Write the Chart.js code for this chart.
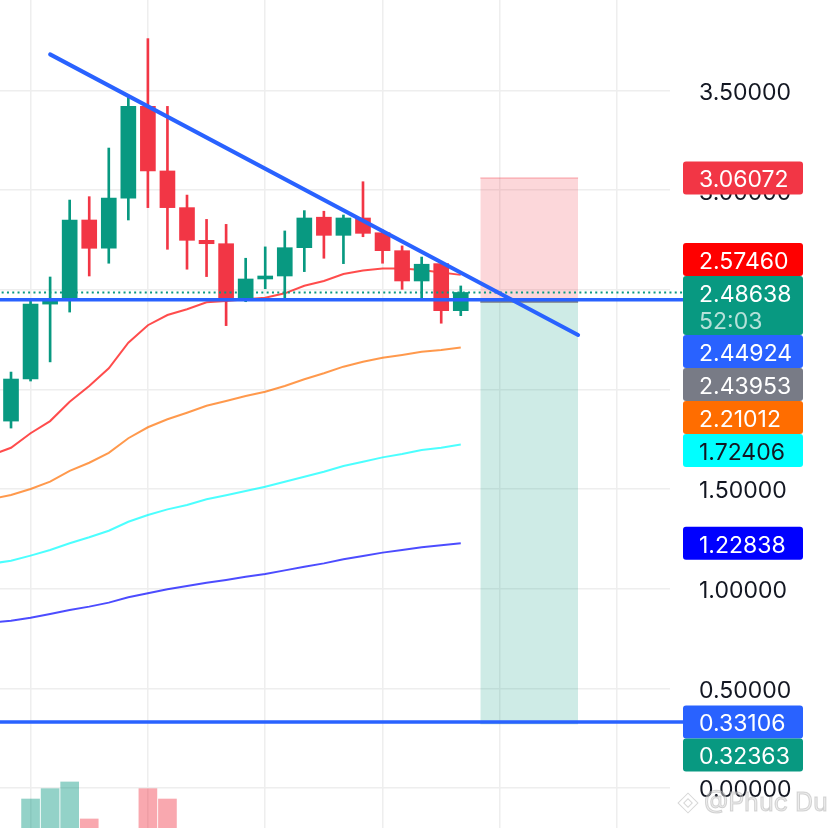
<!DOCTYPE html>
<html>
<head>
<meta charset="utf-8">
<script src="https://cdn.jsdelivr.net/npm/chart.js@4.4.1/dist/chart.umd.min.js"></script>
<style>
  html, body { margin: 0; padding: 0; background: #fff; }
  #wrap { width: 828px; height: 828px; overflow: hidden; }
</style>
</head>
<body>
<div id="wrap"><canvas id="chart" width="828" height="828"></canvas></div>
<script>
// candles, one per index 0..23
const opens  = [1.841, 2.052, 2.428, 2.454, 2.850, 2.708, 2.960, 3.420, 3.096, 2.912, 2.748, 2.731,
                2.452, 2.554, 2.569, 2.711, 2.864, 2.773, 2.860, 2.786, 2.696, 2.544, 2.631, 2.395];
const highs  = [2.087, 2.454, 2.564, 2.950, 2.967, 3.211, 3.472, 3.760, 3.420, 2.975, 2.853, 2.828,
                2.658, 2.715, 2.795, 2.897, 2.894, 2.875, 3.042, 2.800, 2.720, 2.664, 2.640, 2.519];
const lows   = [1.806, 2.042, 2.138, 2.388, 2.569, 2.633, 2.850, 2.912, 2.703, 2.603, 2.566, 2.320,
                2.440, 2.505, 2.452, 2.591, 2.658, 2.631, 2.766, 2.633, 2.502, 2.452, 2.332, 2.370];
const closes = [2.052, 2.428, 2.454, 2.850, 2.708, 2.960, 3.420, 3.096, 2.912, 2.748, 2.731, 2.452,
                2.554, 2.569, 2.711, 2.860, 2.773, 2.860, 2.783, 2.696, 2.544, 2.628, 2.395, 2.48638];
// volume (only the bars that reach into view)
const volumes = [null, 3.5, 4.75, 5.56, 1.09, null, null, 4.75, 3.5, null, null, null,
                 null, null, null, null, null, null, null, null, null, null, null, null];

// moving averages, index -1..23
const maRed    = [1.671, 1.707, 1.780, 1.841, 1.938, 2.017, 2.106, 2.234, 2.322, 2.373, 2.402, 2.437, 2.444,
                  2.452, 2.460, 2.482, 2.520, 2.544, 2.579, 2.596, 2.606, 2.606, 2.599, 2.586, 2.5746];
const maOrange = [1.450, 1.470, 1.500, 1.537, 1.591, 1.632, 1.682, 1.755, 1.810, 1.850, 1.883, 1.918, 1.942,
                  1.967, 1.988, 2.017, 2.051, 2.081, 2.114, 2.139, 2.159, 2.173, 2.189, 2.198, 2.21012];
const maCyan   = [1.126, 1.140, 1.166, 1.194, 1.228, 1.258, 1.291, 1.336, 1.370, 1.398, 1.420, 1.449, 1.469,
                  1.490, 1.512, 1.537, 1.562, 1.587, 1.616, 1.637, 1.659, 1.676, 1.696, 1.707, 1.72406];
const maBlue   = [0.830, 0.839, 0.854, 0.873, 0.893, 0.910, 0.930, 0.957, 0.977, 0.997, 1.014, 1.030, 1.044,
                  1.060, 1.074, 1.092, 1.110, 1.127, 1.148, 1.164, 1.181, 1.194, 1.208, 1.218, 1.22838];

const priceTicks = [0, 0.5, 1.0, 1.5, 2.0, 2.5, 3.0, 3.5];
const timeGrid = [1, 7, 13, 19, 25, 31];

// drawn levels
const supportLevel = 2.44924;
const lowLevel = 0.33106;
const lastPrice = 2.48638;
const trendX = [2, 29];
const trendY = [3.681, 2.273];
// short position tool
const posX = [24, 29];
const entryPrice = 2.43953;
const stopPrice = 3.06072;
const targetPrice = 0.32363;

const priceLabels = [
  { value: 3.06072, text: '3.06072', bg: '#f23645', fg: '#ffffff' },
  { value: 2.57460, text: '2.57460', bg: '#ff0000', fg: '#ffffff' },
  { value: 2.48638, text: '2.48638', sub: '52:03', bg: '#089981', fg: '#ffffff', anchor: true },
  { value: 2.44924, text: '2.44924', bg: '#2962ff', fg: '#ffffff' },
  { value: 2.43953, text: '2.43953', bg: '#787b86', fg: '#ffffff' },
  { value: 2.21012, text: '2.21012', bg: '#ff6d00', fg: '#ffffff' },
  { value: 1.72406, text: '1.72406', bg: '#00ffff', fg: '#131722' },
  { value: 1.22838, text: '1.22838', bg: '#0000ff', fg: '#ffffff' },
  { value: 0.33106, text: '0.33106', bg: '#2962ff', fg: '#ffffff' },
  { value: 0.32363, text: '0.32363', bg: '#089981', fg: '#ffffff' },
];

const GREEN = '#089981';
const RED = '#f23645';
const FONT = 'Inter, "Noto Sans", sans-serif';
const xMin = -0.563, xMax = 33.7;
const yMin = -0.2007, yMax = 3.9538;

const idx = opens.map((v, i) => i);
const up = idx.map(i => closes[i] >= opens[i]);
const hline = (v) => [{ x: xMin - 1, y: v }, { x: xMax + 2, y: v }];
const maLine = (arr) => arr.map((v, k) => ({ x: k - 1, y: v }));
// let the price lines run on up to their axis label
const toLabel = { left: 0, top: 0, right: 13, bottom: 0 };

const datasets = [
  {
    type: 'bar', yAxisID: 'yv', order: 20,
    data: idx.map(i => ({ x: i, y: volumes[i] })),
    backgroundColor: idx.map(i => up[i] ? 'rgba(8,153,129,0.44)' : 'rgba(242,54,69,0.43)'),
    barThickness: 18, grouped: false
  },
  {
    type: 'line', order: 9,
    data: [{ x: posX[0], y: entryPrice }, { x: posX[1], y: entryPrice }],
    borderColor: '#787b86', borderWidth: 2, pointRadius: 0, fill: false
  },
  {
    type: 'line', order: 10,
    data: [{ x: posX[0], y: stopPrice }, { x: posX[1], y: stopPrice }],
    borderColor: 'rgba(242,54,69,0.3)', borderWidth: 1.5, pointRadius: 0,
    fill: { target: 1 }, backgroundColor: 'rgba(242,54,69,0.2)'
  },
  {
    type: 'line', order: 10,
    data: [{ x: posX[0], y: targetPrice }, { x: posX[1], y: targetPrice }],
    borderColor: 'rgba(8,153,129,0.3)', borderWidth: 1.5, pointRadius: 0,
    fill: { target: 1 }, backgroundColor: 'rgba(8,153,129,0.2)'
  },
  { type: 'line', order: 8, data: maLine(maBlue), borderColor: 'rgba(0,0,255,0.7)', borderWidth: 2, pointRadius: 0 },
  { type: 'line', order: 8, data: maLine(maCyan), borderColor: 'rgba(0,255,255,0.7)', borderWidth: 2, pointRadius: 0 },
  { type: 'line', order: 8, data: maLine(maOrange), borderColor: 'rgba(255,109,0,0.7)', borderWidth: 2, pointRadius: 0 },
  { type: 'line', order: 8, data: maLine(maRed), borderColor: 'rgba(255,0,0,0.7)', borderWidth: 2, pointRadius: 0 },
  {
    type: 'bar', order: 5,
    data: idx.map(i => ({ x: i, y: [lows[i], highs[i]] })),
    backgroundColor: idx.map(i => up[i] ? GREEN : RED),
    barThickness: 2, grouped: false, borderWidth: 0
  },
  {
    type: 'bar', order: 4,
    data: idx.map(i => ({ x: i, y: [opens[i], closes[i]] })),
    backgroundColor: idx.map(i => up[i] ? GREEN : RED),
    barThickness: 15, grouped: false, borderWidth: 0
  },
  {
    type: 'line', order: 2, data: hline(lastPrice), clip: toLabel,
    borderColor: GREEN, borderWidth: 2, borderDash: [2, 3.3], pointRadius: 0
  },
  { type: 'line', order: 1, data: hline(supportLevel), clip: toLabel, borderColor: '#2962ff', borderWidth: 3.5, pointRadius: 0 },
  { type: 'line', order: 1, data: hline(lowLevel), clip: toLabel, borderColor: '#2962ff', borderWidth: 3.5, pointRadius: 0 },
  {
    type: 'line', order: 0,
    data: trendX.map((x, k) => ({ x: x, y: trendY[k] })),
    borderColor: '#2962ff', borderWidth: 4, borderCapStyle: 'round', pointRadius: 0
  }
];

function roundRect(ctx, x, y, w, h, r) {
  ctx.beginPath();
  ctx.moveTo(x + r, y);
  ctx.lineTo(x + w - r, y);
  ctx.quadraticCurveTo(x + w, y, x + w, y + r);
  ctx.lineTo(x + w, y + h - r);
  ctx.quadraticCurveTo(x + w, y + h, x + w - r, y + h);
  ctx.lineTo(x + r, y + h);
  ctx.quadraticCurveTo(x, y + h, x, y + h - r);
  ctx.lineTo(x, y + r);
  ctx.quadraticCurveTo(x, y, x + r, y);
  ctx.closePath();
}

const labelPlugin = {
  id: 'priceLabels',
  afterDraw(chart) {
    const ctx = chart.ctx;
    const scale = chart.scales.y;
    const left = chart.chartArea.right + 13;
    const w = 120;
    const items = priceLabels.slice().sort((a, b) => b.value - a.value).map(l => {
      const h = l.sub ? 59 : 33;
      return Object.assign({}, l, { h: h, top: scale.getPixelForValue(l.value) - 16.5 });
    });
    const a = items.findIndex(l => l.anchor);
    for (let i = a - 1; i >= 0; i--) {
      if (items[i].top + items[i].h > items[i + 1].top) items[i].top = items[i + 1].top - items[i].h;
    }
    for (let i = a + 1; i < items.length; i++) {
      const prevBottom = items[i - 1].top + items[i - 1].h;
      if (items[i].top < prevBottom) items[i].top = prevBottom;
    }
    ctx.save();
    ctx.font = '23px ' + FONT;
    ctx.textBaseline = 'middle';
    ctx.textAlign = 'left';
    items.forEach(l => {
      ctx.fillStyle = l.bg;
      roundRect(ctx, left, l.top, w, l.h, 3);
      ctx.fill();
      ctx.fillStyle = l.fg;
      ctx.fillText(l.text, left + 16, l.top + 19);
      if (l.sub) {
        ctx.fillStyle = 'rgba(255,255,255,0.7)';
        ctx.fillText(l.sub, left + 16, l.top + 46);
      }
    });
    // watermark
    ctx.font = '25px ' + FONT;
    ctx.fillStyle = 'rgba(215,215,215,0.45)';
    ctx.strokeStyle = 'rgba(175,175,175,0.5)';
    ctx.lineWidth = 1;
    ctx.fillText('@Phuc Du', 704, 803);
    ctx.strokeText('@Phuc Du', 704, 803);
    ctx.save();
    ctx.translate(688, 803);
    ctx.rotate(Math.PI / 4);
    ctx.strokeRect(-7, -7, 14, 14);
    ctx.strokeRect(-3, -3, 6, 6);
    ctx.restore();
    ctx.restore();
  }
};

const noPad = (axis) => {
  axis.paddingTop = 0; axis.paddingBottom = 0;
  axis.paddingLeft = 0; axis.paddingRight = 0;
};

new Chart(document.getElementById('chart'), {
  type: 'bar',
  data: { datasets: datasets },
  options: {
    animation: false,
    responsive: false,
    layout: { padding: 0 },
    plugins: { legend: { display: false }, tooltip: { enabled: false } },
    scales: {
      x: {
        type: 'linear', min: xMin, max: xMax, offset: false,
        grid: { color: '#eeeeee', lineWidth: 1.5, drawTicks: false, offset: false },
        border: { display: false },
        ticks: { display: false },
        afterBuildTicks: (axis) => { axis.ticks = timeGrid.map(v => ({ value: v })); },
        afterFit: (axis) => { axis.height = 0; noPad(axis); }
      },
      y: {
        position: 'right', min: yMin, max: yMax,
        grid: { color: '#eeeeee', lineWidth: 1.5, drawTicks: false },
        border: { display: false },
        ticks: {
          padding: 29, labelOffset: 2.5, color: '#131722', font: { family: FONT, size: 23 },
          callback: (v) => Number(v).toFixed(5)
        },
        afterBuildTicks: (axis) => { axis.ticks = priceTicks.map(v => ({ value: v })); },
        afterFit: (axis) => { axis.width = 158; noPad(axis); }
      },
      yv: { display: false, min: 0, max: 100 }
    }
  },
  plugins: [labelPlugin]
});
</script>
</body>
</html>
